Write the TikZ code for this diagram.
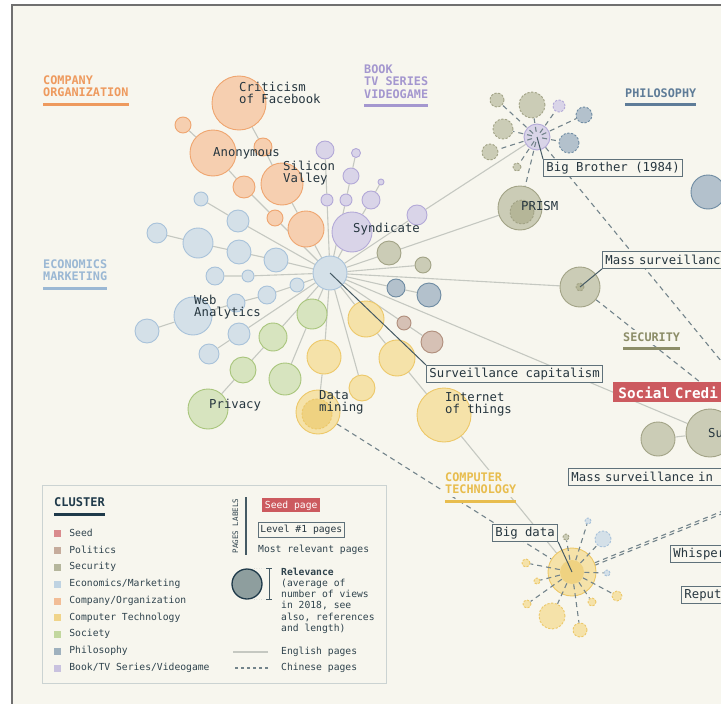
\documentclass[tikz,border=0pt]{standalone}
\usepackage{fontspec}
\setmonofont{DejaVu Sans Mono}
\usepackage{xcolor}
\usepackage{tikz}
\usetikzlibrary{positioning,calc,backgrounds}
\pgfdeclarelayer{edges}
\pgfsetlayers{background,edges,main}

\definecolor{bg}{HTML}{F7F6EE}
\definecolor{frameGray}{HTML}{707070}
\definecolor{ink}{HTML}{26363F}
\definecolor{legInk}{HTML}{2F434D}
\definecolor{navy}{HTML}{1F3A4A}
\definecolor{leadCol}{HTML}{455A64}
\definecolor{tagLine}{HTML}{5F717A}
\definecolor{edgeGray}{HTML}{C5C8C1}
\definecolor{dashGray}{HTML}{73848B}
\definecolor{legLine}{HTML}{CBD3D2}
\definecolor{seedRed}{HTML}{CC5A5F}
\definecolor{compFill}{HTML}{F6CFB0}\definecolor{compLine}{HTML}{EFA56F}\definecolor{compHead}{HTML}{EE9A5E}
\definecolor{bookFill}{HTML}{D9D4E8}\definecolor{bookLine}{HTML}{B3A9D8}\definecolor{bookHead}{HTML}{A497CF}
\definecolor{econFill}{HTML}{D4E0E8}\definecolor{econLine}{HTML}{A8C2DA}\definecolor{econHead}{HTML}{9BB8D4}
\definecolor{sociFill}{HTML}{D7E4BF}\definecolor{sociLine}{HTML}{A8C57B}
\definecolor{techFill}{HTML}{F5E2A9}\definecolor{techLine}{HTML}{EDC868}\definecolor{techHead}{HTML}{E8BD4E}
\definecolor{techIn}{HTML}{EFD281}
\definecolor{secuFill}{HTML}{CBCCB6}\definecolor{secuLine}{HTML}{A2A386}\definecolor{secuHead}{HTML}{8C8D68}
\definecolor{secuIn}{HTML}{B5B698}
\definecolor{philoFill}{HTML}{B3C1CC}\definecolor{philoLine}{HTML}{6E8BA2}\definecolor{philoHead}{HTML}{5E7C98}
\definecolor{poliFill}{HTML}{D6C1B5}\definecolor{poliLine}{HTML}{B08E7C}
\definecolor{seedSq}{HTML}{D98B8D}\definecolor{poliSq}{HTML}{C6AC9C}\definecolor{secuSq}{HTML}{B5B69C}
\definecolor{econSq}{HTML}{BFD3E2}\definecolor{compSq}{HTML}{F2BD96}\definecolor{techSq}{HTML}{F0D48A}
\definecolor{sociSq}{HTML}{C2D79E}\definecolor{philoSq}{HTML}{9FB1BE}\definecolor{bookSq}{HTML}{C9C2DF}
\definecolor{relFill}{HTML}{8E9E9E}

\newcommand{\pageCircle}[4]
{
	\node[page,#1,minimum size={2*#4pt}] (#2) at (#3) {};
}

\begin{document}
\begin{tikzpicture}[x=1pt,y=-1pt,
	every node/.style={inner sep=0pt},
	page/.style={circle,draw,line width=0.9pt},
	comp/.style={page,fill=compFill,draw=compLine},
	book/.style={page,fill=bookFill,draw=bookLine},
	econ/.style={page,fill=econFill,draw=econLine},
	soci/.style={page,fill=sociFill,draw=sociLine},
	tech/.style={page,fill=techFill,draw=techLine},
	secu/.style={page,fill=secuFill,draw=secuLine},
	philo/.style={page,fill=philoFill,draw=philoLine},
	poli/.style={page,fill=poliFill,draw=poliLine},
	cn/.style={dash pattern=on 2.2pt off 1.6pt},
	edge/.style={draw=edgeGray,line width=1.1pt},
	cnedge/.style={draw=dashGray,line width=1.1pt,dash pattern=on 5pt off 4pt},
	lead/.style={draw=leadCol,line width=1pt},
	lbl/.style={font=\ttfamily\fontsize{12.3}{12}\selectfont,text=ink,align=left,anchor=west},
	tag/.style={draw=tagLine,fill=bg,line width=0.9pt,text=ink,font=\ttfamily\fontsize{12.3}{12}\selectfont,inner xsep=3pt,minimum height=17pt,anchor=north west},
	cut/.style={text width=160pt,align=left},
	heading/.style={font=\ttfamily\bfseries\fontsize{11.8}{12.3}\selectfont,align=left,anchor=north west,fill=bg,preaction={draw=bg,line width=6pt}},
	legtxt/.style={font=\ttfamily\fontsize{9.7}{11.3}\selectfont,text=legInk,align=left},
	sq/.style={minimum size=7pt},
]
\useasboundingbox (0,0) rectangle (721,704);

\begin{pgfonlayer}{background}
\fill[white] (0,0) rectangle (721,704);
\fill[bg] (12,5) rectangle (760,740);
\draw[frameGray,line width=1.6pt] (12,740) -- (12,5) -- (760,5);
\end{pgfonlayer}

\pageCircle{econ}{hub}{330,273}{17}

\pageCircle{comp}{o1}{306,229}{18}
\pageCircle{comp}{silv}{282,184}{21}
\pageCircle{comp}{o2}{263,147}{9}
\pageCircle{comp}{crit}{239,103}{27}
\pageCircle{comp}{o3}{275,218}{8}
\pageCircle{comp}{o4}{244,187}{11}
\pageCircle{comp}{anon}{213,153}{23}
\pageCircle{comp}{o5}{183,125}{8}

\pageCircle{book}{b1}{327,200}{6}
\pageCircle{book}{b2}{325,150}{9}
\pageCircle{book}{b3}{346,200}{6}
\pageCircle{book}{b4}{351,176}{8}
\pageCircle{book}{b5}{356,153}{4.5}
\pageCircle{book}{synd}{352,232}{20}
\pageCircle{book}{b6}{371,200}{9}
\pageCircle{book}{b7}{381,182}{3}
\pageCircle{book}{b8}{417,215}{10}

\pageCircle{econ}{e1}{238,221}{11}
\pageCircle{econ}{e2}{201,199}{7}
\pageCircle{econ}{e3}{276,260}{12}
\pageCircle{econ}{e4}{239,252}{12}
\pageCircle{econ}{e5}{198,243}{15}
\pageCircle{econ}{e6}{157,233}{10}
\pageCircle{econ}{e7}{248,276}{6}
\pageCircle{econ}{e8}{215,276}{9}
\pageCircle{econ}{e9}{297,285}{7}
\pageCircle{econ}{e10}{267,295}{9}
\pageCircle{econ}{e11}{236,303}{9}
\pageCircle{econ}{webA}{193,316}{19}
\pageCircle{econ}{e12}{147,331}{12}
\pageCircle{econ}{e13}{239,334}{11}
\pageCircle{econ}{e14}{209,354}{10}

\pageCircle{soci}{g1}{312,314}{15}
\pageCircle{soci}{g2}{285,379}{16}
\pageCircle{soci}{g3}{273,337}{14}
\pageCircle{soci}{g4}{243,370}{13}
\pageCircle{soci}{priv}{208,409}{20}

\pageCircle{tech}{y1}{366,319}{18}
\pageCircle{tech}{y2}{397,358}{18}
\pageCircle{tech}{iot}{444,415}{27}
\pageCircle{tech}{y3}{324,357}{17}
\pageCircle{tech}{dmin}{318,412}{22}
\pageCircle{tech,cn,fill=techIn}{dminIn}{317,414}{15}
\pageCircle{tech}{y4}{362,388}{13}

\pageCircle{secu}{s1}{389,253}{12}
\pageCircle{secu}{s2}{423,265}{8}
\pageCircle{secu}{msur}{580,287}{20}
\pageCircle{secu,cn,fill=secuIn}{msurIn}{580,287}{4}
\pageCircle{secu}{prism}{520,208}{22}
\pageCircle{secu,cn,fill=secuIn}{prismIn}{522,212}{12}
\pageCircle{secu}{su}{710,433}{24}
\pageCircle{secu}{s3}{658,439}{17}

\pageCircle{philo}{f1}{396,288}{9}
\pageCircle{philo}{f2}{429,295}{12}
\pageCircle{philo}{f3}{708,192}{17}

\pageCircle{poli}{l1}{404,323}{7}
\pageCircle{poli}{l2}{432,342}{11}

\pageCircle{book}{bbro}{537,137}{13}
\node[circle,minimum size=10pt] (bbroIn) at (537,137) {};
\pageCircle{secu,cn}{bb1}{497,100}{7}
\pageCircle{secu,cn}{bb2}{532,105}{13}
\pageCircle{book,cn}{bb3}{559,106}{6}
\pageCircle{philo,cn}{bb4}{584,115}{8}
\pageCircle{secu,cn}{bb5}{503,129}{10}
\pageCircle{philo,cn}{bb6}{569,143}{10}
\pageCircle{secu,cn}{bb7}{490,152}{8}
\pageCircle{secu,cn}{bb8}{517,167}{4}

\pageCircle{tech}{bdat}{572,572}{24}
\pageCircle{tech,fill=techIn,draw=none}{bdatIn}{572,572}{12}
\pageCircle{tech,cn}{bd1}{526,563}{4}
\pageCircle{tech,cn}{bd2}{537,581}{3}
\pageCircle{tech,cn}{bd3}{527,604}{4}
\pageCircle{tech,cn}{bd4}{552,616}{13}
\pageCircle{tech,cn}{bd5}{580,630}{7}
\pageCircle{tech,cn}{bd6}{592,602}{4}
\pageCircle{tech,cn}{bd7}{617,596}{5}
\pageCircle{econ,cn}{bd8}{607,573}{3}
\pageCircle{econ,cn}{bd9}{603,539}{8}
\pageCircle{econ,cn}{bd10}{588,521}{3}
\pageCircle{secu,cn}{bd11}{566,537}{3}

\coordinate (bbEnd) at (740,384);
\coordinate (bdEnd) at (745,502);

\node[lbl] (critL) at (239,93) {Criticism\\of Facebook};
\node[lbl] (anonL) at (213,153) {Anonymous};
\node[lbl] (silvL) at (283,173) {Silicon\\Valley};
\node[lbl] (syndL) at (353,229) {Syndicate};
\node[lbl] (webAL) at (194,307) {Web\\Analytics};
\node[lbl] (privL) at (209,405) {Privacy};
\node[lbl] (dminL) at (319,402) {Data\\mining};
\node[lbl] (iotL) at (445,404) {Internet\\of things};
\node[lbl] (prismL) at (521,206) {PRISM};
\node[lbl] (suL) at (708,433) {Su};

\node[tag] (bbl) at (543,159) {Big Brother (1984)};
\node[tag] (scap) at (426,365) {Surveillance capitalism};
\node[tag,cut] (msl) at (602,251) {Mass surveillanc};
\node[tag,cut] (msc) at (568,468) {Mass surveillance in};
\node[tag,cut] (wsp) at (670,545) {Whisper};
\node[tag,cut] (rep) at (681,586) {Reput};
\node[tag] (bdl) at (492,524) {Big data};
\node[tag,cut,fill=seedRed,draw=none,text=white,font=\ttfamily\bfseries\fontsize{14.3}{14}\selectfont,inner xsep=5pt,minimum height=20pt] (scs) at (613,382) {Social Credi};

\begin{pgfonlayer}{edges}
\draw[edge] (hub) -- (o1) -- (silv) -- (o2) -- (crit);
\draw[edge] (hub) -- (o3) -- (o4) -- (anon) -- (o5);
\draw[edge] (hub) -- (b1) -- (b2);
\draw[edge] (hub) -- (b3) -- (b4) -- (b5);
\draw[edge] (hub) -- (synd) -- (b6) -- (b7);
\draw[edge] (hub) -- (b8) -- (bbro);
\draw[edge] (hub) -- (s1) -- (prism);
\draw[edge] (hub) -- (s2);
\draw[edge] (hub) -- (msur);
\draw[edge] (hub) -- (f1) -- (f2);
\draw[edge] (hub) -- (l1) -- (l2);
\draw[edge] (hub) -- (su);
\draw[edge] (s3) -- (su);
\draw[edge] (hub) -- (y1) -- (y2) -- (iot) -- (bdat);
\draw[edge] (hub) -- (y3) -- (dmin);
\draw[edge] (hub) -- (y4);
\draw[edge] (hub) -- (g1) -- (g2);
\draw[edge] (hub) -- (g3) -- (g4) -- (priv);
\draw[edge] (hub) -- (e9) -- (e10) -- (e11) -- (webA) -- (e12);
\draw[edge] (hub) -- (e7) -- (e8);
\draw[edge] (hub) -- (e3) -- (e4) -- (e5) -- (e6);
\draw[edge] (hub) -- (e1) -- (e2);
\draw[edge] (hub) -- (e13) -- (e14);

\draw[cnedge] (bbro) -- (bbEnd);
\draw[cnedge] (msur) -- ($(scs.north west)+(87,0)$);
\draw[cnedge] (dmin) -- (bdat);
\draw[cnedge] (bdat) -- (bdEnd);
\draw[cnedge,dash phase=3pt] ([yshift=-2.5pt]bdat.center) -- ([yshift=-2.5pt]bdEnd);
\end{pgfonlayer}

\draw[cnedge] (bbroIn) -- (bb1);
\draw[cnedge] (bbroIn) -- (bb2);
\draw[cnedge] (bbroIn) -- (bb3);
\draw[cnedge] (bbroIn) -- (bb4);
\draw[cnedge] (bbroIn) -- (bb5);
\draw[cnedge] (bbroIn) -- (bb6);
\draw[cnedge] (bbroIn) -- (bb7);
\draw[cnedge] (bbroIn) -- (bb8);
\draw[cnedge] (bbroIn) -- (prism);

\draw[cnedge] (bdatIn) -- (bd1);
\draw[cnedge] (bdatIn) -- (bd2);
\draw[cnedge] (bdatIn) -- (bd3);
\draw[cnedge] (bdatIn) -- (bd4);
\draw[cnedge] (bdatIn) -- (bd5);
\draw[cnedge] (bdatIn) -- (bd6);
\draw[cnedge] (bdatIn) -- (bd7);
\draw[cnedge] (bdatIn) -- (bd8);
\draw[cnedge] (bdatIn) -- (bd9);
\draw[cnedge] (bdatIn) -- (bd10);
\draw[cnedge] (bdatIn) -- (bd11);

\draw[lead] (hub.center) -- (scap.north west);
\draw[lead] (bbro.center) -- (bbl.north west);
\draw[lead] (msur.center) -- (msl.south west);
\draw[lead] (bdat.center) -- (bdl.south east);

\node[heading,text=compHead] (compH) at (43,75.5) {COMPANY\\ORGANIZATION};
\draw[compHead,line width=3pt] ([yshift=-7pt]compH.south west) -- ([yshift=-7pt]compH.south east);
\node[heading,text=bookHead] (bookH) at (364,64.5) {BOOK\\TV SERIES\\VIDEOGAME};
\draw[bookHead,line width=3pt] ([yshift=-7pt]bookH.south west) -- ([yshift=-7pt]bookH.south east);
\node[heading,text=philoHead] (philH) at (625,88.5) {PHILOSOPHY};
\draw[philoHead,line width=3pt] ([yshift=-7pt]philH.south west) -- ([yshift=-7pt]philH.south east);
\node[heading,text=econHead] (econH) at (43,259.5) {ECONOMICS\\MARKETING};
\draw[econHead,line width=3pt] ([yshift=-7pt]econH.south west) -- ([yshift=-7pt]econH.south east);
\node[heading,text=secuHead] (secuH) at (623,332.5) {SECURITY};
\draw[secuHead,line width=3pt] ([yshift=-7pt]secuH.south west) -- ([yshift=-7pt]secuH.south east);
\node[heading,text=techHead] (techH) at (445,472.5) {COMPUTER\\TECHNOLOGY};
\draw[techHead,line width=3pt] ([yshift=-7pt]techH.south west) -- ([yshift=-7pt]techH.south east);

\draw[legLine,line width=1pt] (42,485) rectangle (386,683);
\node[anchor=west,font=\ttfamily\bfseries\fontsize{12}{12}\selectfont,text=navy] (clu) at (54,502) {CLUSTER};
\draw[navy,line width=3pt] ([yshift=-7.5pt]clu.south west) -- ([yshift=-7.5pt]clu.south east);

\node[sq,fill=seedSq] (q1) at (57.5,533) {};
\node[legtxt,right=8pt of q1] (t1) {Seed};
\node[sq,fill=poliSq] (q2) at (57.5,550) {};
\node[legtxt,right=8pt of q2] (t2) {Politics};
\node[sq,fill=secuSq] (q3) at (57.5,567) {};
\node[legtxt,right=8pt of q3] (t3) {Security};
\node[sq,fill=econSq] (q4) at (57.5,584) {};
\node[legtxt,right=8pt of q4] (t4) {Economics/Marketing};
\node[sq,fill=compSq] (q5) at (57.5,601) {};
\node[legtxt,right=8pt of q5] (t5) {Company/Organization};
\node[sq,fill=techSq] (q6) at (57.5,617.5) {};
\node[legtxt,right=8pt of q6] (t6) {Computer Technology};
\node[sq,fill=sociSq] (q7) at (57.5,634) {};
\node[legtxt,right=8pt of q7] (t7) {Society};
\node[sq,fill=philoSq] (q8) at (57.5,651) {};
\node[legtxt,right=8pt of q8] (t8) {Philosophy};
\node[sq,fill=bookSq] (q9) at (57.5,668) {};
\node[legtxt,right=8pt of q9] (t9) {Book/TV Series/Videogame};

\node[legtxt,rotate=90,font=\ttfamily\fontsize{7.5}{7.5}\selectfont] (pgl) at (235.5,526) {PAGES LABELS};
\draw[leadCol,line width=1.2pt] (246,497) -- (246,555);
\node[tag,fill=seedRed,draw=none,text=white,font=\ttfamily\fontsize{9.7}{10}\selectfont,minimum height=14pt,inner xsep=2.5pt] (sdp) at (262,498) {Seed page};
\node[tag,font=\ttfamily\fontsize{9.7}{10}\selectfont,minimum height=15pt,inner xsep=2pt] (lvl) at (258,522) {Level \#1 pages};
\node[legtxt,anchor=west] (mrp) at (258,550) {Most relevant pages};

\node[circle,draw=navy,fill=relFill,line width=1.3pt,minimum size=30pt] (relC) at (247,584) {};
\draw[legLine!60!gray,dotted] (relC.north) -- (269,568.5);
\draw[legLine!60!gray,dotted] (relC.south) -- (269,599.5);
\draw[leadCol,line width=1pt] (266,568.5) -- (272,568.5) (269,568.5) -- (269,599.5) (266,599.5) -- (272,599.5);
\node[legtxt,anchor=north west] (relT) at (281,567.5) {\textbf{Relevance}\\(average of\\number of views\\in 2018, see\\also, references\\and length)};

\node[legtxt,anchor=west] (eng) at (281,652) {English pages};
\draw[edge] ([xshift=-13pt]eng.west) -- ++(-35,0);
\node[legtxt,anchor=west] (chn) at (281,668) {Chinese pages};
\draw[cnedge,dash pattern=on 3pt off 3pt] ([xshift=-13pt]chn.west) -- ++(-35,0);
\end{tikzpicture}
\end{document}
